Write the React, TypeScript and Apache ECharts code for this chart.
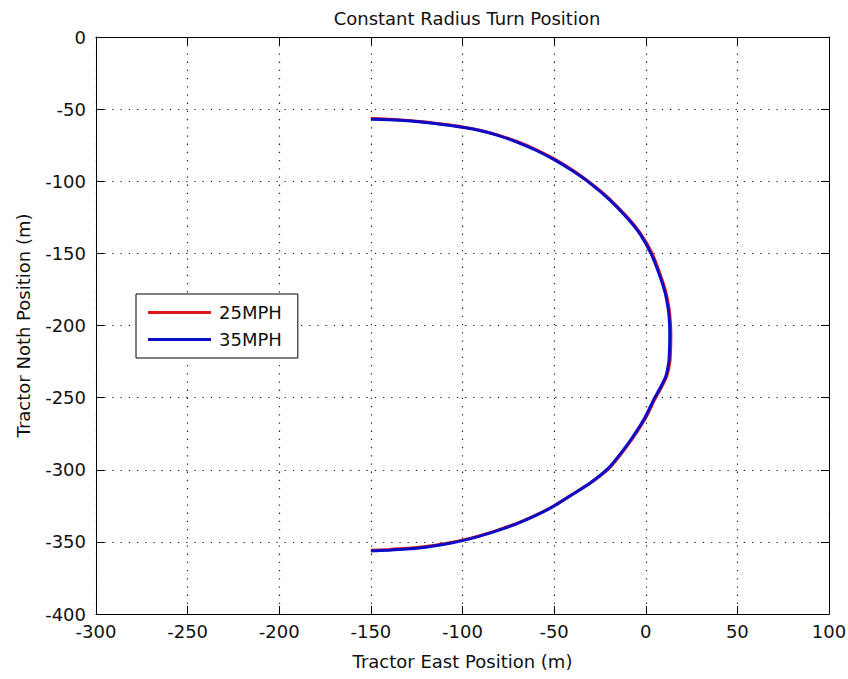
import React, { useEffect, useRef } from "react";
import * as echarts from "echarts";

const titleText = "Constant Radius Turn Position";
const xAxisName = "Tractor East Position (m)";
const yAxisName = "Tractor Noth Position (m)";
const seriesNames = ["25MPH", "35MPH"];

const xMin = -300;
const xMax = 100;
const yMin = -400;
const yMax = 0;
const tickStep = 50;

const eastPos25 = [
  -150, -140, -130, -120, -110, -100, -90, -80, -70, -60, -50, -40, -30, -20, -10, -3, 3.5, 8, 11, 12.7,
  13.4, 13.7, 13.6, 13.2, 11.5, 8.5, 5, 0, -7, -14, -20, -30, -40, -50, -60, -70, -80, -90, -100, -110,
  -120, -130, -140, -150,
];
const northPos25 = [
  -56.5, -57, -57.8, -59, -60.5, -62.3, -64.8, -68.2, -72.6, -78, -84.5, -92.2, -101.3, -112, -125, -136,
  -150, -165, -177, -188, -197, -206, -215, -225, -235, -243, -251, -264, -278, -290, -299, -309, -317,
  -325, -331.5, -337, -341.5, -345.5, -348.8, -351.3, -353.2, -354.5, -355.3, -355.8,
];

const eastPos35 = [
  -150, -140, -130, -120, -110, -100, -90, -80, -70, -60, -50, -40, -30, -20, -10, -3, 3, 7.5, 10.5, 12.2,
  12.9, 13.1, 13, 12.6, 11, 8, 4.5, -0.5, -7.5, -14.5, -20.5, -30.5, -40.5, -50.5, -60.5, -70.5, -80.5,
  -90.5, -100.5, -110.5, -120, -130, -140, -150,
];
const northPos35 = [
  -57, -57.3, -58, -59.2, -60.8, -62.6, -65, -68.5, -73, -78.5, -85, -92.8, -101.8, -112.5, -125.6, -136.8,
  -150.5, -165, -177, -188, -197, -206, -215, -225, -235, -243, -251, -264, -278, -290, -299, -309.3,
  -317.5, -325.5, -332, -337.5, -342, -346, -349.3, -351.8, -353.7, -355, -355.8, -356.3,
];

const FONT = "'DejaVu Sans', Verdana, sans-serif";

function pairs(xs: number[], ys: number[]) {
  return xs.map((x, i) => [x, ys[i]]);
}

export default function App() {
  const ref = useRef<HTMLDivElement>(null);

  useEffect(() => {
    if (!ref.current) return;
    const chart = echarts.init(ref.current, undefined, { renderer: "svg" });

    const axisLine = { show: true, onZero: false, lineStyle: { color: "#000", width: 1 } };
    const tickIn = { show: true, inside: true, length: 8, lineStyle: { color: "#000", width: 1 } };
    const gridDots = {
      show: true,
      lineStyle: { color: "#222", width: 1.2, type: [1.3, 6.9] as any },
    };
    const labelStyle = { color: "#111", fontSize: 18, fontFamily: FONT };

    chart.setOption({
      animation: false,
      backgroundColor: "#fff",
      title: {
        text: titleText,
        left: 462,
        top: 4,
        textAlign: "center",
        textStyle: { color: "#111", fontSize: 18, fontWeight: "normal", fontFamily: FONT },
      },
      grid: { left: 96, right: 19, top: 37, bottom: 65, containLabel: false, outerBoundsMode: "none" },
      legend: {
        orient: "vertical",
        left: 136,
        top: 294,
        padding: [8, 16, 8, 12],
        itemGap: 6,
        itemWidth: 63,
        itemHeight: 3,
        icon: "rect",
        backgroundColor: "#fff",
        borderColor: "#000",
        borderWidth: 1,
        borderRadius: 0,
        data: seriesNames,
        textStyle: { color: "#111", fontSize: 18, lineHeight: 21, fontFamily: FONT, padding: [0, 0, 0, 3] },
      },
      xAxis: [
        {
          type: "value",
          position: "bottom",
          min: xMin,
          max: xMax,
          interval: tickStep,
          name: xAxisName,
          nameLocation: "middle",
          nameGap: 38,
          nameTextStyle: { color: "#111", fontSize: 18, fontFamily: FONT },
          axisLine,
          axisTick: tickIn,
          axisLabel: { ...labelStyle, margin: 8 },
          splitLine: gridDots,
        },
        {
          type: "value",
          position: "top",
          min: xMin,
          max: xMax,
          interval: tickStep,
          axisLine,
          axisTick: tickIn,
          axisLabel: { show: false },
          splitLine: { show: false },
        },
      ],
      yAxis: [
        {
          type: "value",
          position: "left",
          min: yMin,
          max: yMax,
          interval: tickStep,
          name: yAxisName,
          nameLocation: "middle",
          nameGap: 64,
          nameRotate: 90,
          nameTextStyle: { color: "#111", fontSize: 18, fontFamily: FONT },
          axisLine,
          axisTick: tickIn,
          axisLabel: { ...labelStyle, margin: 10 },
          splitLine: gridDots,
        },
        {
          type: "value",
          position: "right",
          min: yMin,
          max: yMax,
          interval: tickStep,
          axisLine,
          axisTick: tickIn,
          axisLabel: { show: false },
          splitLine: { show: false },
        },
      ],
      series: [
        {
          name: seriesNames[0],
          type: "line",
          xAxisIndex: 0,
          yAxisIndex: 0,
          data: pairs(eastPos25, northPos25),
          showSymbol: false,
          symbol: "none",
          smooth: 0.2,
          lineStyle: { color: "#dd1818", width: 3 },
          itemStyle: { color: "#dd1818" },
        },
        {
          name: seriesNames[1],
          type: "line",
          xAxisIndex: 0,
          yAxisIndex: 0,
          data: pairs(eastPos35, northPos35),
          showSymbol: false,
          symbol: "none",
          smooth: 0.2,
          lineStyle: { color: "#0c0cc8", width: 3 },
          itemStyle: { color: "#0c0cc8" },
        },
      ],
    });

    return () => chart.dispose();
  }, []);

  return (
    <div
      ref={ref}
      style={{ position: "fixed", left: 0, top: 0, width: 848, height: 679, background: "#fff" }}
    />
  );
}
